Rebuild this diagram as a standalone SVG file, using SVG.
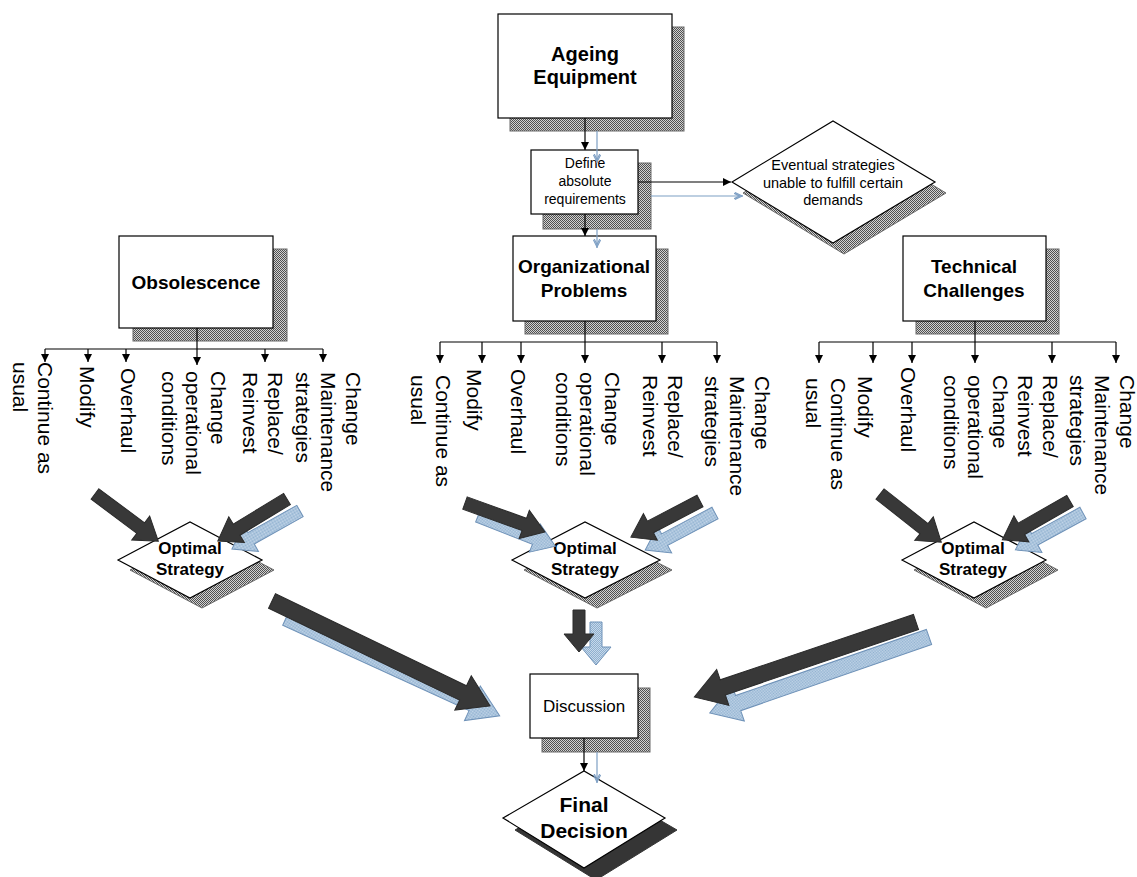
<svg xmlns="http://www.w3.org/2000/svg" width="1137" height="877" viewBox="0 0 1137 877">
  <defs>
    <pattern id="dither" width="2" height="2" patternUnits="userSpaceOnUse">
      <rect width="2" height="2" fill="#d2d2d2"/>
      <rect width="1" height="1" fill="#505050"/>
      <rect x="1" y="1" width="1" height="1" fill="#505050"/>
    </pattern>
    <pattern id="bluedither" width="2" height="2" patternUnits="userSpaceOnUse">
      <rect width="2" height="2" fill="#c6d8ea"/>
      <rect width="1" height="1" fill="#8fb0cf"/>
      <rect x="1" y="1" width="1" height="1" fill="#8fb0cf"/>
    </pattern>
    <marker id="ah" viewBox="0 0 10 10" refX="10" refY="5" markerWidth="8" markerHeight="8" markerUnits="userSpaceOnUse" orient="auto">
      <path d="M0,0 L10,5 L0,10 z" fill="#000"/>
    </marker>
    <marker id="ahBlue" viewBox="0 0 10 10" refX="10" refY="5" markerWidth="9" markerHeight="9" markerUnits="userSpaceOnUse" orient="auto">
      <path d="M1,1 L9,5 L1,9 M-2,1 L6,5 L-2,9" fill="none" stroke="#7d9fc4" stroke-width="1.2"/>
    </marker>
  </defs>
  <style>
    .box { fill: #fff; stroke: #000; stroke-width: 1.2; }
    .shadow { fill: url(#dither); stroke: #6a6a6a; stroke-width: 1; }
    .darkshadow { fill: #353535; stroke: #353535; }
    .conn { stroke: #000; stroke-width: 1.2; fill: none; }
    .connBlue { stroke: #7d9fc4; stroke-width: 1.2; fill: none; }
    .bigArrow { fill: #383838; stroke: #2a2a2a; stroke-width: 1; }
    .bigArrowBlue { fill: url(#bluedither); stroke: #6f92b8; stroke-width: 1; }
    .title { font-family: "Liberation Sans", Arial, sans-serif; font-weight: bold; fill: #000; text-anchor: middle; }
    .plain { font-family: "Liberation Sans", Arial, sans-serif; fill: #000; text-anchor: middle; }
    .lbl { font-family: "Liberation Sans", Arial, sans-serif; font-size: 21px; fill: #000; }
  </style>

  <rect width="1137" height="877" fill="#fff"/>

  <!-- Top of the chain -->
  <g id="ageing-equipment">
    <rect class="shadow" x="510" y="27" width="174" height="104"/>
    <rect class="box" x="498" y="14" width="174" height="104"/>
    <text class="title" font-size="20" x="585" y="61">Ageing</text>
    <text class="title" font-size="20" x="585" y="84">Equipment</text>
  </g>

  <g id="define-requirements">
    <rect class="shadow" x="543" y="163" width="108" height="66"/>
    <rect class="box" x="531" y="150" width="107" height="64"/>
    <text class="plain" font-size="14" x="585" y="168">Define</text>
    <text class="plain" font-size="14" x="585" y="186">absolute</text>
    <text class="plain" font-size="14" x="585" y="204">requirements</text>
  </g>

  <g id="eventual-strategies">
    <polygon class="shadow" points="743,193 844,132 946,193 844,254"/>
    <polygon class="box" points="732,182 833,121 935,182 833,243"/>
    <text class="plain" font-size="14.5" x="833" y="170">Eventual strategies</text>
    <text class="plain" font-size="14.5" x="833" y="188">unable to fulfill certain</text>
    <text class="plain" font-size="14.5" x="833" y="205">demands</text>
  </g>

  <!-- Three problem areas -->
  <g id="obsolescence">
    <rect class="shadow" x="133" y="249" width="154" height="92"/>
    <rect class="box" x="119" y="236" width="154" height="92"/>
    <text class="title" font-size="19" x="196" y="289">Obsolescence</text>
  </g>

  <g id="organizational-problems">
    <rect class="shadow" x="525" y="249" width="143" height="85"/>
    <rect class="box" x="513" y="236" width="143" height="85"/>
    <text class="title" font-size="19" x="584" y="273">Organizational</text>
    <text class="title" font-size="19" x="584" y="297">Problems</text>
  </g>

  <g id="technical-challenges">
    <rect class="shadow" x="916" y="249" width="143" height="85"/>
    <rect class="box" x="903" y="236" width="143" height="85"/>
    <text class="title" font-size="19" x="974" y="273">Technical</text>
    <text class="title" font-size="19" x="974" y="297">Challenges</text>
  </g>

  <!-- Option labels, read top to bottom -->
  <g id="options-obsolescence">
    <text class="lbl" transform="translate(37.5,362) rotate(90)"><tspan x="0" dy="0">Continue as</tspan><tspan x="0" dy="25">usual</tspan></text>
    <text class="lbl" transform="translate(79.5,366) rotate(90)">Modify</text>
    <text class="lbl" transform="translate(120.5,368) rotate(90)">Overhaul</text>
    <text class="lbl" transform="translate(210.5,371) rotate(90)"><tspan x="0" dy="0">Change</tspan><tspan x="0" dy="24.5">operational</tspan><tspan x="0" dy="24.5">conditions</tspan></text>
    <text class="lbl" transform="translate(267.5,372) rotate(90)"><tspan x="0" dy="0">Replace/</tspan><tspan x="0" dy="25">Reinvest</tspan></text>
    <text class="lbl" transform="translate(345.5,372) rotate(90)"><tspan x="0" dy="0">Change</tspan><tspan x="0" dy="25">Maintenance</tspan><tspan x="0" dy="25">strategies</tspan></text>
  </g>

  <g id="options-organizational">
    <text class="lbl" transform="translate(435.5,375) rotate(90)"><tspan x="0" dy="0">Continue as</tspan><tspan x="0" dy="25">usual</tspan></text>
    <text class="lbl" transform="translate(466.5,369) rotate(90)">Modify</text>
    <text class="lbl" transform="translate(510.5,369) rotate(90)">Overhaul</text>
    <text class="lbl" transform="translate(604.5,372) rotate(90)"><tspan x="0" dy="0">Change</tspan><tspan x="0" dy="24.5">operational</tspan><tspan x="0" dy="24.5">conditions</tspan></text>
    <text class="lbl" transform="translate(667.5,375) rotate(90)"><tspan x="0" dy="0">Replace/</tspan><tspan x="0" dy="25">Reinvest</tspan></text>
    <text class="lbl" transform="translate(754.5,376) rotate(90)"><tspan x="0" dy="0">Change</tspan><tspan x="0" dy="25">Maintenance</tspan><tspan x="0" dy="25">strategies</tspan></text>
  </g>

  <g id="options-technical">
    <text class="lbl" transform="translate(830.5,378) rotate(90)"><tspan x="0" dy="0">Continue as</tspan><tspan x="0" dy="25">usual</tspan></text>
    <text class="lbl" transform="translate(857.5,376) rotate(90)">Modify</text>
    <text class="lbl" transform="translate(900.5,367) rotate(90)">Overhaul</text>
    <text class="lbl" transform="translate(992.5,375) rotate(90)"><tspan x="0" dy="0">Change</tspan><tspan x="0" dy="24.5">operational</tspan><tspan x="0" dy="24.5">conditions</tspan></text>
    <text class="lbl" transform="translate(1042.5,375) rotate(90)"><tspan x="0" dy="0">Replace/</tspan><tspan x="0" dy="25">Reinvest</tspan></text>
    <text class="lbl" transform="translate(1119.5,375) rotate(90)"><tspan x="0" dy="0">Change</tspan><tspan x="0" dy="25">Maintenance</tspan><tspan x="0" dy="25">strategies</tspan></text>
  </g>

  <!-- Optimal strategy decisions -->
  <g id="optimal-obsolescence">
    <polygon class="shadow" points="130,570 202,532 274,570 202,608"/>
    <polygon class="box" points="118,560 190,522 262,560 190,598"/>
    <text class="title" font-size="17" x="190" y="554">Optimal</text>
    <text class="title" font-size="17" x="190" y="575">Strategy</text>
  </g>

  <g id="optimal-organizational">
    <polygon class="shadow" points="524,570 597,532 672,570 597,608"/>
    <polygon class="box" points="512,560 585,522 660,560 585,598"/>
    <text class="title" font-size="17" x="585" y="554">Optimal</text>
    <text class="title" font-size="17" x="585" y="575">Strategy</text>
  </g>

  <g id="optimal-technical">
    <polygon class="shadow" points="914,570 986,532 1058,570 986,608"/>
    <polygon class="box" points="902,560 974,522 1046,560 974,598"/>
    <text class="title" font-size="17" x="973" y="554">Optimal</text>
    <text class="title" font-size="17" x="973" y="575">Strategy</text>
  </g>

  <g id="discussion">
    <rect class="shadow" x="542" y="688" width="108" height="64"/>
    <rect class="box" x="530" y="674" width="108" height="64"/>
    <text class="plain" font-size="17" x="584" y="712">Discussion</text>
  </g>

  <g id="final-decision">
    <polygon class="darkshadow" points="515,830 596,783 677,830 596,880"/>
    <polygon class="box" points="503,818 584,771 665,818 584,868"/>
    <text class="title" font-size="21" x="584" y="812">Final</text>
    <text class="title" font-size="21" x="584" y="838">Decision</text>
  </g>

  <!-- Connectors -->
  <g id="connectors">
    <!-- main chain -->
    <line class="conn" x1="585" y1="118" x2="585" y2="150" marker-end="url(#ah)"/>
    <line class="connBlue" x1="597" y1="131" x2="597" y2="163" marker-end="url(#ahBlue)"/>
    <line class="conn" x1="585" y1="214" x2="585" y2="236" marker-end="url(#ah)"/>
    <line class="connBlue" x1="597" y1="229" x2="597" y2="248" marker-end="url(#ahBlue)"/>
    <line class="conn" x1="638" y1="182" x2="731" y2="182" marker-end="url(#ah)"/>
    <line class="connBlue" x1="651" y1="196" x2="743" y2="196" marker-end="url(#ahBlue)"/>
    <line class="conn" x1="584" y1="738" x2="584" y2="771" marker-end="url(#ah)"/>
    <line class="connBlue" x1="597" y1="752" x2="597" y2="783" marker-end="url(#ahBlue)"/>

    <!-- obsolescence option tree -->
    <line class="conn" x1="197" y1="328" x2="197" y2="365" marker-end="url(#ah)"/>
    <line class="conn" x1="45" y1="349" x2="323" y2="349"/>
    <line class="conn" x1="45" y1="349" x2="45" y2="362" marker-end="url(#ah)"/>
    <line class="conn" x1="88" y1="349" x2="88" y2="362" marker-end="url(#ah)"/>
    <line class="conn" x1="126" y1="349" x2="126" y2="362" marker-end="url(#ah)"/>
    <line class="conn" x1="265" y1="349" x2="265" y2="362" marker-end="url(#ah)"/>
    <line class="conn" x1="323" y1="349" x2="323" y2="362" marker-end="url(#ah)"/>

    <!-- organizational option tree -->
    <line class="conn" x1="585" y1="321" x2="585" y2="363" marker-end="url(#ah)"/>
    <line class="conn" x1="440" y1="342" x2="717" y2="342"/>
    <line class="conn" x1="440" y1="342" x2="440" y2="363" marker-end="url(#ah)"/>
    <line class="conn" x1="482" y1="342" x2="482" y2="363" marker-end="url(#ah)"/>
    <line class="conn" x1="521" y1="342" x2="521" y2="363" marker-end="url(#ah)"/>
    <line class="conn" x1="662" y1="342" x2="662" y2="363" marker-end="url(#ah)"/>
    <line class="conn" x1="717" y1="342" x2="717" y2="363" marker-end="url(#ah)"/>

    <!-- technical option tree -->
    <line class="conn" x1="975" y1="321" x2="975" y2="363" marker-end="url(#ah)"/>
    <line class="conn" x1="819" y1="342" x2="1116" y2="342"/>
    <line class="conn" x1="819" y1="342" x2="819" y2="363" marker-end="url(#ah)"/>
    <line class="conn" x1="873" y1="342" x2="873" y2="363" marker-end="url(#ah)"/>
    <line class="conn" x1="912" y1="342" x2="912" y2="363" marker-end="url(#ah)"/>
    <line class="conn" x1="1052" y1="342" x2="1052" y2="363" marker-end="url(#ah)"/>
    <line class="conn" x1="1116" y1="342" x2="1116" y2="363" marker-end="url(#ah)"/>

    <!-- block arrows into the optimal strategy diamonds (blue shadows first) -->
    <path class="bigArrowBlue" transform="translate(300,511) rotate(150.8)" d="M0,-6.5 L56,-6.5 L56,-15 L78,0 L56,15 L56,6.5 L0,6.5 Z"/>
    <path class="bigArrowBlue" transform="translate(478,516) rotate(21.3)" d="M0,-6.5 L61,-6.5 L61,-15 L83,0 L61,15 L61,6.5 L0,6.5 Z"/>
    <path class="bigArrowBlue" transform="translate(715,513) rotate(152.1)" d="M0,-6.5 L57,-6.5 L57,-15 L79,0 L57,15 L57,6.5 L0,6.5 Z"/>
    <path class="bigArrowBlue" transform="translate(1083,513) rotate(151.4)" d="M0,-6.5 L55,-6.5 L55,-15 L77,0 L55,15 L55,6.5 L0,6.5 Z"/>

    <path class="bigArrow" transform="translate(95,494) rotate(36.7)" d="M0,-6.5 L57,-6.5 L57,-15 L79,0 L57,15 L57,6.5 L0,6.5 Z"/>
    <path class="bigArrow" transform="translate(287,499) rotate(148.7)" d="M0,-6.5 L59,-6.5 L59,-15 L81,0 L59,15 L59,6.5 L0,6.5 Z"/>
    <path class="bigArrow" transform="translate(465,503) rotate(19.9)" d="M0,-6.5 L63,-6.5 L63,-15 L85,0 L63,15 L63,6.5 L0,6.5 Z"/>
    <path class="bigArrow" transform="translate(700,501) rotate(152.4)" d="M0,-6.5 L56,-6.5 L56,-15 L78,0 L56,15 L56,6.5 L0,6.5 Z"/>
    <path class="bigArrow" transform="translate(880,494) rotate(38.2)" d="M0,-6.5 L56,-6.5 L56,-15 L78,0 L56,15 L56,6.5 L0,6.5 Z"/>
    <path class="bigArrow" transform="translate(1070,501) rotate(150.2)" d="M0,-6.5 L56,-6.5 L56,-15 L78,0 L56,15 L56,6.5 L0,6.5 Z"/>

    <!-- block arrows into the discussion -->
    <path class="bigArrowBlue" transform="translate(286,618) rotate(24.6)" d="M0,-8 L205,-8 L205,-19 L235,0 L205,19 L205,8 L0,8 Z"/>
    <path class="bigArrowBlue" transform="translate(929,637) rotate(160.9)" d="M0,-8 L202,-8 L202,-19 L232,0 L202,19 L202,8 L0,8 Z"/>
    <path class="bigArrowBlue" transform="translate(596,622) rotate(90)" d="M0,-6 L25,-6 L25,-15 L43,0 L25,15 L25,6 L0,6 Z"/>

    <path class="bigArrow" transform="translate(272,601) rotate(25.7)" d="M0,-8 L212,-8 L212,-19 L242,0 L212,19 L212,8 L0,8 Z"/>
    <path class="bigArrow" transform="translate(916,622) rotate(161.3)" d="M0,-8 L204,-8 L204,-19 L234,0 L204,19 L204,8 L0,8 Z"/>
    <path class="bigArrow" transform="translate(579,610) rotate(90)" d="M0,-6 L24,-6 L24,-15 L42,0 L24,15 L24,6 L0,6 Z"/>
  </g>
</svg>
